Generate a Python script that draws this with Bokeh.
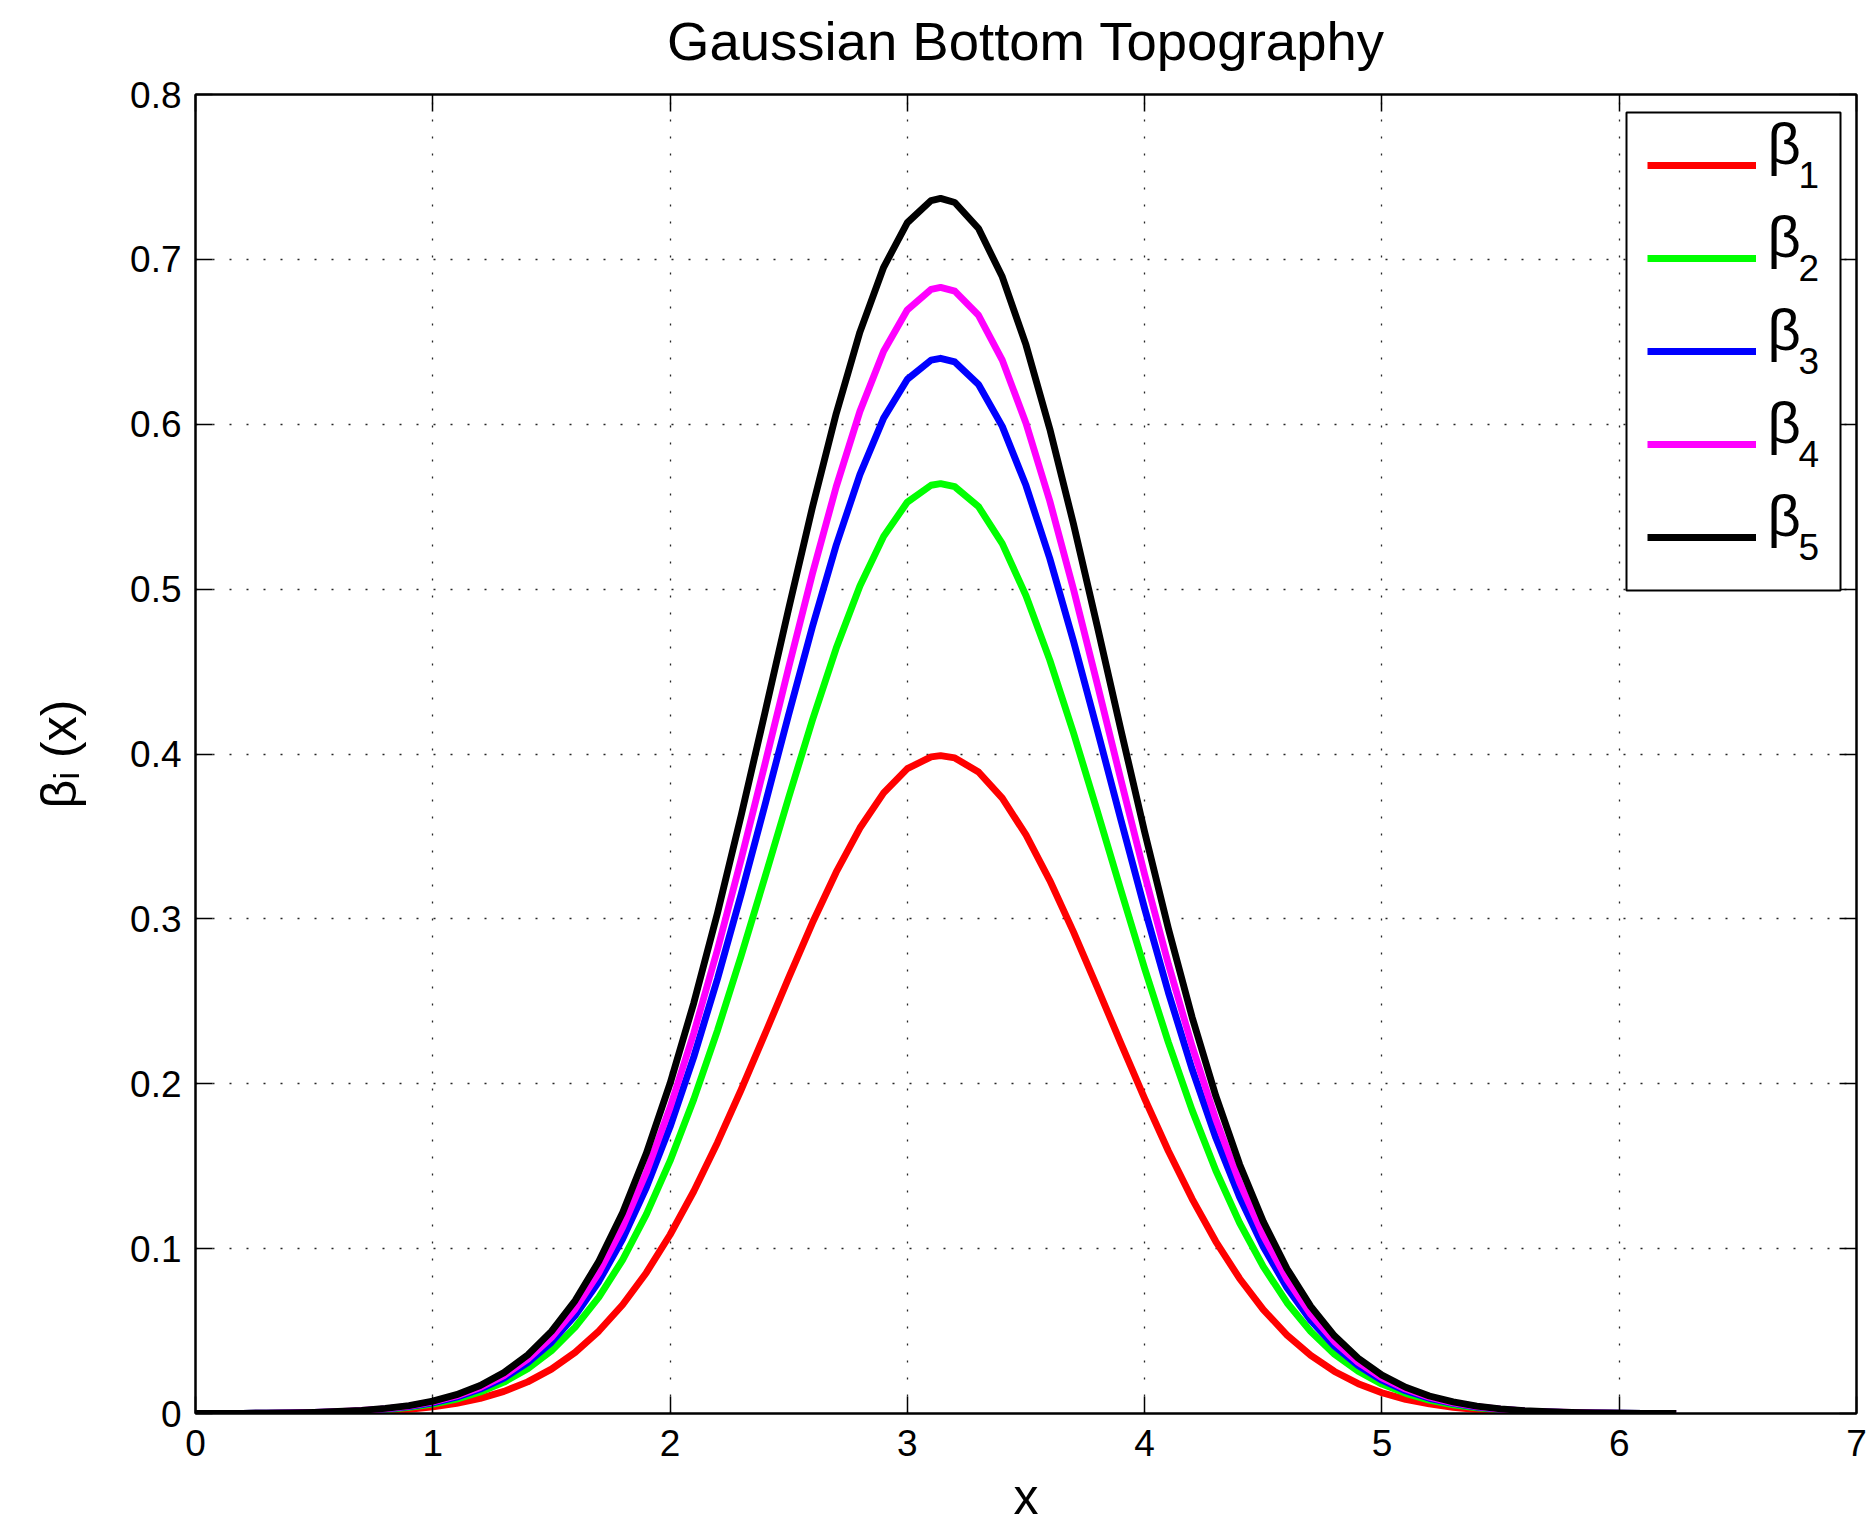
from bokeh.plotting import figure
from bokeh.models import (Label, Legend, LegendItem, LinearAxis, FixedTicker,
                          CustomJSTickFormatter, Range1d, BoxAnnotation)
from bokeh.embed import file_html
from bokeh.resources import INLINE

# ---- data ----
x = [0.0, 0.1, 0.2, 0.3, 0.4, 0.5, 0.6, 0.7, 0.8, 0.9,
     1.0, 1.1, 1.2, 1.3, 1.4, 1.5, 1.6, 1.7, 1.8, 1.9,
     2.0, 2.1, 2.2, 2.3, 2.4, 2.5, 2.6, 2.7, 2.8, 2.9,
     3.0, 3.1, 3.14, 3.2, 3.3, 3.4, 3.5, 3.6, 3.7, 3.8, 3.9,
     4.0, 4.1, 4.2, 4.3, 4.4, 4.5, 4.6, 4.7, 4.8, 4.9,
     5.0, 5.1, 5.2, 5.3, 5.4, 5.5, 5.6, 5.7, 5.8, 5.9,
     6.0, 6.1, 6.2, 6.24]

beta1 = [0.00002, 0.00004, 0.0001, 0.0001, 0.0002, 0.0004, 0.0006, 0.0010, 0.0017, 0.0026,
         0.0041, 0.0062, 0.0092, 0.0134, 0.0192, 0.0269, 0.0371, 0.0500, 0.0660, 0.0854,
         0.1084, 0.1348, 0.1644, 0.1965, 0.2302, 0.2644, 0.2976, 0.3283, 0.3551, 0.3764,
         0.3911, 0.3983, 0.3990, 0.3976, 0.3891, 0.3732, 0.3509, 0.3234, 0.2921, 0.2586, 0.2245,
         0.1910, 0.1592, 0.1302, 0.1043, 0.0819, 0.0630, 0.0476, 0.0352, 0.0255, 0.0181,
         0.0126, 0.0086, 0.0058, 0.0038, 0.0024, 0.0015, 0.0009, 0.0006, 0.0003, 0.0002,
         0.0001, 0.00006, 0.00003, 0.00003]

beta2 = [0.00003, 0.00005, 0.0001, 0.0002, 0.0003, 0.0005, 0.0009, 0.0015, 0.0023, 0.0037,
         0.0057, 0.0087, 0.0130, 0.0190, 0.0272, 0.0381, 0.0524, 0.0706, 0.0932, 0.1208,
         0.1532, 0.1906, 0.2324, 0.2778, 0.3254, 0.3737, 0.4206, 0.4641, 0.5019, 0.5320,
         0.5528, 0.5630, 0.5640, 0.5621, 0.5500, 0.5276, 0.4960, 0.4571, 0.4129, 0.3656, 0.3173,
         0.2699, 0.2251, 0.1840, 0.1474, 0.1157, 0.0891, 0.0672, 0.0497, 0.0360, 0.0256,
         0.0178, 0.0122, 0.0081, 0.0053, 0.0034, 0.0022, 0.0013, 0.0008, 0.0005, 0.0003,
         0.0002, 0.0001, 0.00005, 0.00004]

beta3 = [0.00003, 0.00006, 0.0001, 0.0002, 0.0003, 0.0006, 0.0010, 0.0016, 0.0027, 0.0042,
         0.0065, 0.0099, 0.0148, 0.0215, 0.0308, 0.0432, 0.0594, 0.0801, 0.1058, 0.1370,
         0.1739, 0.2163, 0.2637, 0.3152, 0.3692, 0.4241, 0.4773, 0.5266, 0.5695, 0.6037,
         0.6273, 0.6389, 0.6400, 0.6378, 0.6241, 0.5987, 0.5628, 0.5187, 0.4685, 0.4148, 0.3601,
         0.3063, 0.2554, 0.2088, 0.1672, 0.1313, 0.1011, 0.0763, 0.0564, 0.0409, 0.0291,
         0.0202, 0.0138, 0.0092, 0.0061, 0.0039, 0.0025, 0.0015, 0.0009, 0.0005, 0.0003,
         0.0002, 0.0001, 0.00006, 0.00004]

beta4 = [0.00004, 0.00007, 0.0001, 0.0002, 0.0004, 0.0006, 0.0011, 0.0018, 0.0028, 0.0045,
         0.0070, 0.0106, 0.0158, 0.0230, 0.0329, 0.0461, 0.0634, 0.0855, 0.1129, 0.1462,
         0.1856, 0.2308, 0.2815, 0.3364, 0.3940, 0.4526, 0.5094, 0.5620, 0.6078, 0.6443,
         0.6694, 0.6818, 0.6830, 0.6807, 0.6661, 0.6389, 0.6006, 0.5536, 0.5000, 0.4427, 0.3843,
         0.3269, 0.2726, 0.2228, 0.1785, 0.1402, 0.1079, 0.0814, 0.0602, 0.0436, 0.0310,
         0.0216, 0.0148, 0.0099, 0.0065, 0.0042, 0.0026, 0.0016, 0.0010, 0.0006, 0.0003,
         0.0002, 0.0001, 0.00006, 0.00005]

beta5 = [0.00004, 0.00007, 0.0001, 0.0002, 0.0004, 0.0007, 0.0012, 0.0019, 0.0031, 0.0048,
         0.0075, 0.0114, 0.0170, 0.0248, 0.0355, 0.0498, 0.0685, 0.0923, 0.1218, 0.1578,
         0.2002, 0.2490, 0.3037, 0.3630, 0.4252, 0.4883, 0.5497, 0.6064, 0.6559, 0.6952,
         0.7223, 0.7357, 0.7370, 0.7345, 0.7187, 0.6894, 0.6481, 0.5973, 0.5396, 0.4777, 0.4146,
         0.3527, 0.2941, 0.2404, 0.1926, 0.1512, 0.1164, 0.0878, 0.0650, 0.0471, 0.0335,
         0.0233, 0.0159, 0.0106, 0.0070, 0.0045, 0.0028, 0.0017, 0.0011, 0.0006, 0.0004,
         0.0002, 0.0001, 0.00006, 0.00005]

series = [beta1, beta2, beta3, beta4, beta5]
subscripts = ["1", "2", "3", "4", "5"]
colors = ["#ff0000", "#00ff00", "#0000ff", "#ff00ff", "#000000"]
x_ticks = [0, 1, 2, 3, 4, 5, 6, 7]
y_ticks = [0, 0.1, 0.2, 0.3, 0.4, 0.5, 0.6, 0.7, 0.8]
title_text = "Gaussian Bottom Topography"
x_label = "x"
y_label = "βᵢ (x)"

FONT = "Liberation Sans"

p = figure(width=1870, height=1528, output_backend="svg", toolbar_location=None,
           x_range=Range1d(0, 7), y_range=Range1d(0, 0.8),
           min_border_left=195, min_border_right=14, min_border_top=94,
           min_border_bottom=115)
p.background_fill_color = "white"
p.border_fill_color = "white"
p.outline_line_color = "black"
p.outline_line_width = 2

# axes
for ax in (p.xaxis[0], p.yaxis[0]):
    ax.major_label_text_font = FONT
    ax.major_label_text_font_size = "37px"
    ax.major_label_text_color = "black"
    ax.major_tick_in = 17
    ax.major_tick_out = 0
    ax.minor_tick_line_color = None
    ax.axis_line_width = 2
    ax.major_tick_line_width = 1.5
    ax.axis_label_text_font = FONT
    ax.axis_label_text_font_size = "50px"
    ax.axis_label_text_font_style = "normal"
    ax.axis_label_text_color = "black"
p.xaxis.ticker = FixedTicker(ticks=x_ticks)
p.yaxis.ticker = FixedTicker(ticks=y_ticks)
p.yaxis.major_label_overrides = {0: "0"}
p.xaxis.major_label_standoff = 16
p.yaxis.major_label_standoff = 14
p.xaxis.axis_label = x_label
p.xaxis.axis_label_standoff = 10
p.yaxis.axis_label = y_label
p.yaxis.axis_label_standoff = 40

# mirrored axes (ticks only); the top one carries the title text
blank = CustomJSTickFormatter(code="return ''")
ax_r = LinearAxis(ticker=FixedTicker(ticks=y_ticks), formatter=blank,
                  major_tick_in=17, major_tick_out=0, minor_tick_line_color=None,
                  axis_line_width=2, major_label_standoff=0, major_tick_line_width=1.5,
                  major_label_text_font_size="1px")
ax_t = LinearAxis(ticker=FixedTicker(ticks=x_ticks), formatter=blank,
                  major_tick_in=17, major_tick_out=0, minor_tick_line_color=None,
                  axis_line_width=2, major_label_standoff=0, major_tick_line_width=1.5,
                  major_label_text_font_size="1px",
                  axis_label=title_text, axis_label_text_font=FONT,
                  axis_label_text_font_size="54.5px", axis_label_text_font_style="normal",
                  axis_label_text_color="black", axis_label_standoff=23)
p.add_layout(ax_r, "right")
p.add_layout(ax_t, "above")

# dotted grid
for g in (p.xgrid[0], p.ygrid[0]):
    g.grid_line_color = "#000000"
    g.grid_line_width = 1.3
    g.grid_line_dash = "2 15"
    g.grid_line_alpha = 0.85
p.xgrid.ticker = FixedTicker(ticks=x_ticks)
p.ygrid.ticker = FixedTicker(ticks=y_ticks)

# curves
renderers = []
for ys, c in zip(series, colors):
    r = p.line(x, ys, line_color=c, line_width=6.9, line_join="round")
    renderers.append(r)

# legend box (white, black border) drawn under a transparent legend
p.add_layout(BoxAnnotation(left=1431, right=1645, top=1301, bottom=823,
                           left_units="screen", right_units="screen",
                           top_units="screen", bottom_units="screen",
                           fill_color="white", fill_alpha=1.0,
                           line_color="black", line_width=2, line_alpha=1.0))

legend = Legend(items=[LegendItem(label=" ", renderers=[r]) for r in renderers],
                location="top_right")
legend.margin = 17
legend.padding = 24
legend.spacing = 33
legend.label_height = 60
legend.glyph_height = 60
legend.glyph_width = 109
legend.label_standoff = 14
legend.label_width = 45
legend.label_text_font_size = "20px"
legend.border_line_alpha = 0.0
legend.background_fill_alpha = 0.0
p.add_layout(legend)

# legend texts: beta with subscripts
for i, s in enumerate(subscripts):
    p.add_layout(Label(x=1572, y=1270 - 93 * i, x_units="screen", y_units="screen",
                       text="β", text_font=FONT, text_font_size="58px", text_color="black",
                       text_baseline="middle", level="overlay"))
    p.add_layout(Label(x=1603, y=1239 - 93 * i, x_units="screen", y_units="screen",
                       text=s, text_font=FONT, text_font_size="37px", text_color="black",
                       text_baseline="middle", level="overlay"))

open("out.html", "w").write(file_html(p, INLINE))
